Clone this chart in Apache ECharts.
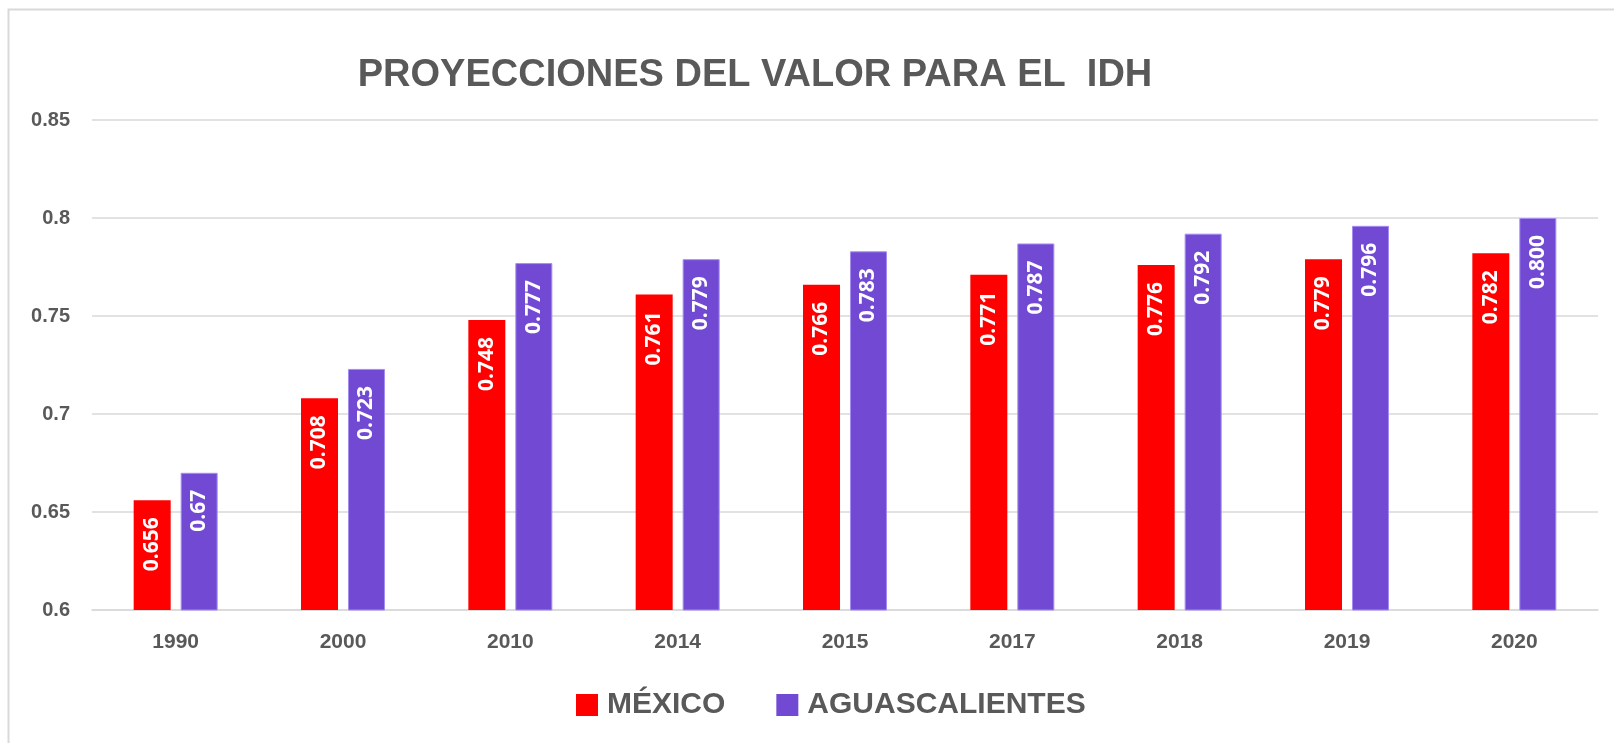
<!DOCTYPE html>
<html>
<head>
<meta charset="utf-8">
<script src="https://cdn.jsdelivr.net/npm/echarts@6/dist/echarts.min.js"></script>
<style>
  html, body { margin: 0; padding: 0; background: #fff; }
  #chart { width: 1614px; height: 743px; }
</style>
</head>
<body>
<div id="chart"></div>
<script>
const years = ["1990", "2000", "2010", "2014", "2015", "2017", "2018", "2019", "2020"];
const mexico = [0.656, 0.708, 0.748, 0.761, 0.766, 0.771, 0.776, 0.779, 0.782];
const aguascalientes = [0.67, 0.723, 0.777, 0.779, 0.783, 0.787, 0.792, 0.796, 0.800];
const mexicoLabels = ["0.656", "0.708", "0.748", "0.761", "0.766", "0.771", "0.776", "0.779", "0.782"];
const aguasLabels = ["0.67", "0.723", "0.777", "0.779", "0.783", "0.787", "0.792", "0.796", "0.800"];

const sans = "'Liberation Sans', Arial, sans-serif";
const grey = "#595959";

const chart = echarts.init(document.getElementById("chart"));

function barLabel(texts) {
  return {
    show: true,
    position: "insideTop",
    rotate: 90,
    align: "right",
    verticalAlign: "middle",
    distance: 17,
    color: "#fff",
    fontFamily: "'Open Sans', sans-serif",
    fontWeight: "bold",
    fontSize: 21,
    formatter: (p) => texts[p.dataIndex]
  };
}

const option = {
  backgroundColor: "#fff",
  animation: false,
  graphic: [{
    type: "rect",
    shape: { x: 8.5, y: 9.5, width: 2000, height: 2000 },
    style: { fill: "none", stroke: "#d9d9d9", lineWidth: 2 }
  }],
  title: {
    text: "PROYECCIONES DEL VALOR PARA EL  IDH",
    left: 750,
    top: 52,
    textAlign: "center",
    textStyle: { fontFamily: sans, fontWeight: "bold", fontSize: 38, color: grey }
  },
  grid: { left: 92, right: 16, top: 120, bottom: 133 },
  legend: {
    left: 571,
    top: 685,
    itemWidth: 22,
    itemHeight: 22,
    itemGap: 51,
    icon: "rect",
    textStyle: { fontFamily: sans, fontWeight: "bold", fontSize: 30, color: grey, padding: [0, 0, 0, 4] },
    data: [
      { name: "MÉXICO", itemStyle: { borderWidth: 0 } },
      { name: "AGUASCALIENTES", itemStyle: { borderWidth: 0 } }
    ]
  },
  xAxis: {
    type: "category",
    data: years,
    axisLine: { show: true, lineStyle: { color: "#d9d9d9", width: 1.5 } },
    axisTick: { show: false },
    axisLabel: { margin: 22, fontFamily: sans, fontWeight: "bold", fontSize: 21, color: grey }
  },
  yAxis: {
    type: "value",
    min: 0.6,
    max: 0.85,
    interval: 0.05,
    axisLine: { show: false },
    axisTick: { show: false },
    splitLine: { lineStyle: { color: "#d9d9d9", width: 1.5 } },
    axisLabel: { margin: 22, fontFamily: sans, fontWeight: "bold", fontSize: 20, color: grey,
      formatter: (v) => String(+v.toFixed(2)) }
  },
  series: [
    {
      name: "MÉXICO",
      type: "bar",
      data: mexico,
      barWidth: 37,
      barGap: "27%",
      itemStyle: { color: "#ff0000" },
      label: barLabel(mexicoLabels)
    },
    {
      name: "AGUASCALIENTES",
      type: "bar",
      data: aguascalientes,
      barWidth: 37,
      itemStyle: { color: "#7249d3", borderColor: "#a58cf0", borderWidth: 1 },
      label: barLabel(aguasLabels)
    }
  ]
};

chart.setOption(option);
</script>
</body>
</html>
